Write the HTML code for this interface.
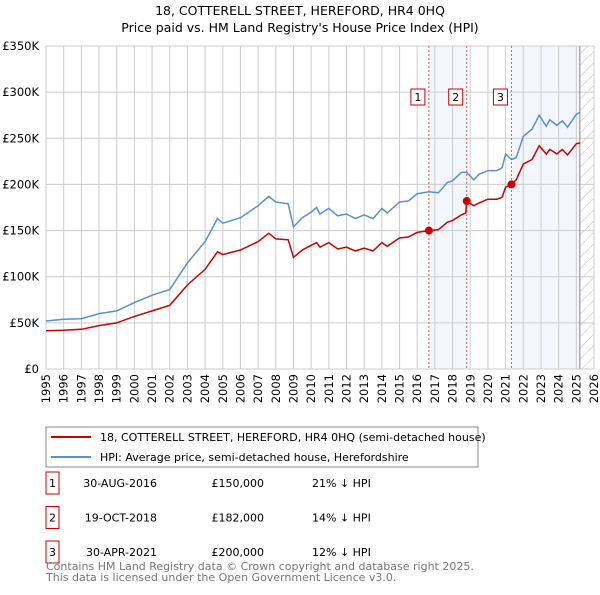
<!DOCTYPE html>
<html><head><meta charset="utf-8"><style>
body{margin:0;background:#fff;font-family:"Liberation Sans","DejaVu Sans",sans-serif;}
svg text{font-family:"DejaVu Sans","Liberation Sans",sans-serif;}
</style></head><body>
<svg id="chart" width="600" height="590" xmlns="http://www.w3.org/2000/svg">
<text x="300" y="15" text-anchor="middle" font-size="12.5" fill="#000">18, COTTERELL STREET, HEREFORD, HR4 0HQ</text>
<text x="300" y="32" text-anchor="middle" font-size="12.5" fill="#000">Price paid vs. HM Land Registry's House Price Index (HPI)</text>
<g id="plot"></g>
<rect x="46" y="427" width="432" height="40" fill="#fff" stroke="#888"/>
<line x1="51" y1="437" x2="91" y2="437" stroke="#cc0000" stroke-width="2"/>
<text x="100" y="441" font-size="11">18, COTTERELL STREET, HEREFORD, HR4 0HQ (semi-detached house)</text>
<line x1="51" y1="457" x2="91" y2="457" stroke="#5b8fd4" stroke-width="2"/>
<text x="100" y="461" font-size="11">HPI: Average price, semi-detached house, Herefordshire</text>
<g id="table" font-size="11"></g>
<text x="46" y="570" font-size="11" fill="#777">Contains HM Land Registry data © Crown copyright and database right 2025.</text>
<text x="46" y="581" font-size="11" fill="#777">This data is licensed under the Open Government Licence v3.0.</text>
</svg>
<script>
const hpiYears=[1995,1996,1997,1998,1999,2000,2001,2002,2003,2004,2004.7,2005,2006,2007,2007.6,2008,2008.7,2009,2009.5,2010,2010.3,2010.5,2011,2011.5,2012,2012.5,2013,2013.5,2014,2014.3,2015,2015.5,2016,2016.66,2017.2,2017.7,2018,2018.5,2018.8,2019.2,2019.5,2020,2020.5,2020.8,2021,2021.33,2021.6,2022,2022.5,2022.9,2023.3,2023.5,2023.9,2024.2,2024.5,2025,2025.2];
const hpiValues=[52,54,54.5,60,63,72,80,86,115,138,163,158,164,177,187,181,179,154,164,170,175,168,174,166,168,163,167,163,174,169,181,182,190,192,191,202,204,213,213,205,211,215,215,218,233,227,229,252,260,275,263,270,264,269,262,276,278];
const priceYears=[1995,1996,1997,1998,1999,2000,2001,2002,2003,2004,2004.7,2005,2006,2007,2007.6,2008,2008.7,2009,2009.5,2010,2010.3,2010.5,2011,2011.5,2012,2012.5,2013,2013.5,2014,2014.3,2015,2015.5,2016,2016.66,2017.2,2017.7,2018,2018.5,2018.75,2018.8,2019.2,2019.5,2020,2020.5,2020.8,2021,2021.33,2021.6,2022,2022.5,2022.9,2023.3,2023.5,2023.9,2024.2,2024.5,2025,2025.2];
const priceValues=[41.5,42,43,47,50,57,63,69,91,108,127,124,129,138,147,141,140,121,129,134,137,132,137,130,132,128,131,128,137,133,142,143,148,150,151,159,161,167,169,182,177,180,184,184,186,197,200,205,222,227,242,233,238,233,238,232,244,245];
const saleLabels=["1","2","3"];
const saleYears=[2016.66,2018.8,2021.33];
const saleValues=[150,182,200];
const saleDates=["30-AUG-2016","19-OCT-2018","30-APR-2021"];
const salePrices=["£150,000","£182,000","£200,000"];
const saleDiffs=["21% ↓ HPI","14% ↓ HPI","12% ↓ HPI"];
const yTicks=[0,50,100,150,200,250,300,350];
const yTickLabels=["£0","£50K","£100K","£150K","£200K","£250K","£300K","£350K"];
const xTicks=[1995,1996,1997,1998,1999,2000,2001,2002,2003,2004,2005,2006,2007,2008,2009,2010,2011,2012,2013,2014,2015,2016,2017,2018,2019,2020,2021,2022,2023,2024,2025,2026];

const NS="http://www.w3.org/2000/svg";
const L=46,R=594,T=46,B=369;
const xs=y=>L+(y-1995)/(2026-1995)*(R-L);
const ys=v=>B-v/350*(B-T);
const plot=document.getElementById('plot');
function mk(tag,attrs,parent){const e=document.createElementNS(NS,tag);for(const k in attrs)e.setAttribute(k,attrs[k]);(parent||plot).appendChild(e);return e;}
let e;
e=mk('rect',{x:xs(saleYears[0]),y:T,width:xs(saleYears[1])-xs(saleYears[0]),height:B-T,fill:'#eef3fc',opacity:0.7});

e=mk('rect',{x:xs(saleYears[2]),y:T,width:xs(2025.2)-xs(saleYears[2]),height:B-T,fill:'#eef3fc',opacity:0.7});

const defs=mk('defs',{});
const pat=mk('pattern',{id:'hatch',width:8,height:8,patternUnits:'userSpaceOnUse',patternTransform:'rotate(45)'},defs);
mk('line',{x1:0,y1:0,x2:0,y2:8,stroke:'#bbb','stroke-width':1},pat);
e=mk('rect',{x:xs(2025.2),y:T,width:R-xs(2025.2),height:B-T,fill:'url(#hatch)'});

xTicks.forEach(t=>{e=mk('line',{x1:xs(t),y1:T,x2:xs(t),y2:B,stroke:'#ccc'});

e=mk('text',{x:0,y:0,'font-size':11.5,'text-anchor':'end',transform:`translate(${xs(t)+4},${B+5}) rotate(-90)`});e.textContent=t;
});
yTicks.forEach((t,i)=>{e=mk('line',{x1:L,y1:ys(t),x2:R,y2:ys(t),stroke:'#ccc'});

e=mk('text',{x:L-7,y:ys(t)+4,'font-size':11.5,'text-anchor':'end'});e.textContent=yTickLabels[i];
});
e=mk('line',{x1:xs(2025.2),y1:T,x2:xs(2025.2),y2:B,stroke:'#888'});

saleYears.forEach((s,i)=>{e=mk('line',{x1:xs(s),y1:T,x2:xs(s),y2:B,stroke:'#e55','stroke-dasharray':'2,2'});
});
const pts=(a,b)=>a.map((y,i)=>xs(y).toFixed(1)+','+ys(b[i]).toFixed(1)).join(' ');
e=mk('polyline',{points:pts(hpiYears,hpiValues),fill:'none',stroke:'#5b8fd4','stroke-width':1.5});

e=mk('polyline',{points:pts(priceYears,priceValues),fill:'none',stroke:'#cc0000','stroke-width':1.5});

saleYears.forEach((s,i)=>{e=mk('circle',{cx:xs(s),cy:ys(saleValues[i]),r:4,fill:'#cc0000'});

const bx=xs(s)-11;
e=mk('rect',{x:bx-7,y:89,width:14,height:16,fill:'#fff',stroke:'#cc0000'});

e=mk('text',{x:bx,y:101,'font-size':11,'text-anchor':'middle'});e.textContent=saleLabels[i];
});
const tb=document.getElementById('table');
saleLabels.forEach((l,i)=>{const cy=483+i*34.5;
e=mk('rect',{x:46,y:cy-11,width:13,height:22,fill:'#fff',stroke:'#cc0000'},tb);

e=mk('text',{x:52.5,y:cy+4,'text-anchor':'middle'},tb);e.textContent=l;

e=mk('text',{x:157,y:cy+4,'text-anchor':'end'},tb);e.textContent=saleDates[i];

e=mk('text',{x:264,y:cy+4,'text-anchor':'end'},tb);e.textContent=salePrices[i];

e=mk('text',{x:312,y:cy+4},tb);e.textContent=saleDiffs[i];
});
</script>
</body></html>
